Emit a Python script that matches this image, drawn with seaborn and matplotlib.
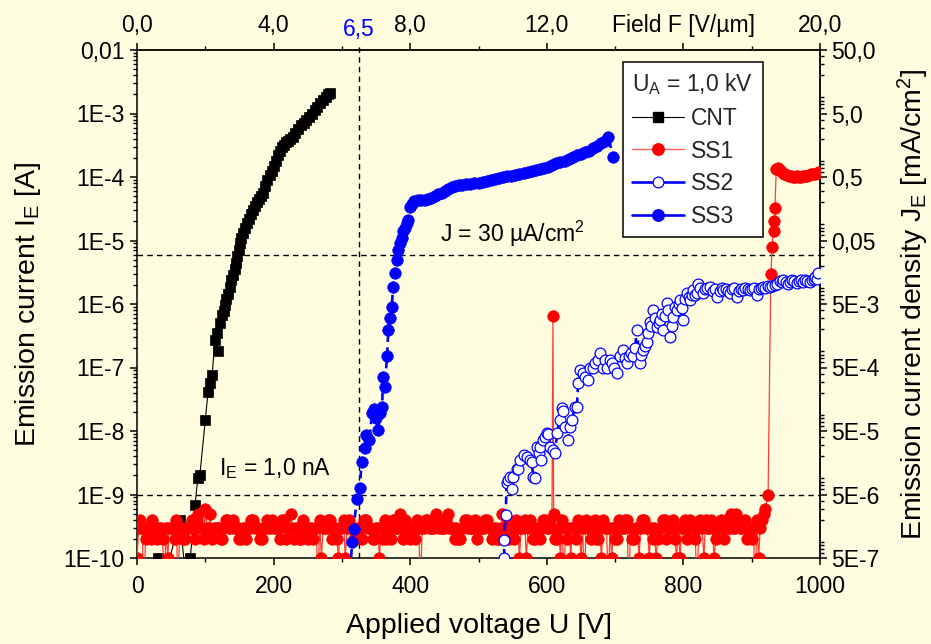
import numpy as np
import pandas as pd
import matplotlib
matplotlib.use("Agg")
import matplotlib.pyplot as plt
import matplotlib.transforms as mtransforms
from matplotlib.lines import Line2D
from matplotlib.ticker import FixedLocator, LogLocator, NullFormatter
import seaborn as sns

# ---------------------------------------------------------------- data
# CNT emitter: applied voltage [V] and emission current [A]
CNT_U = [22, 31, 38, 63, 72, 78, 85, 89, 92, 100,
         104, 107, 110, 114, 118, 117, 122, 125, 127, 129,
         131, 133, 136, 138, 140, 143, 145, 147, 149, 151,
         153, 155, 158, 161, 164, 167, 170, 173, 176, 179,
         182, 185, 188, 191, 194, 197, 200, 203, 206, 209,
         212, 215, 218, 221, 224, 228, 232, 236, 240, 244,
         248, 252, 256, 260, 264, 268, 272, 276, 280, 283]
CNT_I = [4e-11, 1e-10, 4e-11, 4e-10, 4e-11, 1e-10, 6.8e-10, 1.8e-9, 2.0e-9, 1.5e-8,
         4.1e-8, 5.75e-8, 7.6e-8, 2.7e-7, 1.8e-7, 3.5e-7, 5.0e-7, 6.6e-7, 7.9e-7, 9.5e-7,
         1.2e-6, 1.45e-6, 1.86e-6, 2.4e-6, 2.9e-6, 3.5e-6, 4.5e-6, 5.75e-6, 7.1e-6, 9.1e-6,
         1.1e-5, 1.3e-5, 1.6e-5, 1.9e-5, 2.2e-5, 2.6e-5, 3.0e-5, 3.5e-5, 4.0e-5, 4.5e-5,
         5.0e-5, 5.6e-5, 7.2e-5, 9.1e-5, 1.07e-4, 1.26e-4, 1.5e-4, 1.8e-4, 2.2e-4, 2.6e-4,
         2.95e-4, 3.2e-4, 3.5e-4, 3.7e-4, 4.0e-4, 4.3e-4, 5.0e-4, 5.75e-4, 6.5e-4, 7.1e-4,
         7.9e-4, 8.9e-4, 1.0e-3, 1.12e-3, 1.26e-3, 1.45e-3, 1.62e-3, 1.82e-3, 2.0e-3, 2.09e-3]

# SS1: electrometer floor, two interleaved passes with 5 V steps
# (pass A at 0, 5, ... 920 V; pass B at 2.5, 7.5, ... 917.5 V),
# readings in units of 0.1 nA (0.3 = reading below the range)
SS1_PASS_A_U = list(range(0, 925, 5))
SS1_PASS_A = [1, 4, 0.3, 3, 2, 3, 2, 3, 0.3, 1,
              3, 2, 0.3, 3, 2, 3, 4, 2, 5, 3,
              6, 3, 2, 3, 3, 2, 4, 3, 4, 3,
              2, 3, 2, 3, 4, 3, 2, 3, 4, 3,
              3, 3, 2, 4, 3, 5, 2, 3, 2, 3,
              2, 3, 3, 0.3, 1, 3, 4, 2, 3, 1,
              3, 1, 4, 3, 2, 3, 2, 4, 3, 2,
              3, 1, 2, 2, 3, 4, 3, 5, 2, 3,
              2, 3, 4, 0.3, 3, 4, 3, 3, 4, 3,
              3, 5, 3, 2, 2, 3, 4, 3, 3, 4,
              3, 3, 4, 3, 2, 3, 2, 5, 3, 2,
              3, 4, 1, 3, 1, 4, 2, 3, 2, 4,
              3, 4, 5, 2, 1, 0.3, 2, 1, 3, 4,
              1, 0.3, 3, 2, 4, 2, 1, 3, 0.3, 1,
              2, 4, 3, 4, 0.3, 2, 3, 1, 4, 3,
              1, 2, 1, 3, 4, 2, 3, 4, 1, 1,
              3, 2, 4, 3, 0.3, 4, 1, 3, 4, 1,
              3, 4, 2, 3, 5, 3, 4, 3, 4, 3,
              2, 0.3, 1, 4, 6]
SS1_PASS_B_U = [u + 2.5 for u in range(0, 920, 5)]
SS1_PASS_B = [3, 3, 2, 3, 4, 3, 3, 2, 3, 3,
              3, 4, 3, 2, 3, 3, 3, 4, 3, 2,
              3, 5, 3, 3, 2, 3, 4, 3, 3, 3,
              2, 3, 3, 4, 3, 3, 2, 3, 3, 4,
              3, 3, 4, 2, 3, 3, 3, 2, 4, 3,
              3, 2, 3, 4, 3, 3, 4, 3, 2, 3,
              4, 3, 3, 2, 3, 3, 4, 3, 3, 2,
              3, 3, 4, 3, 2, 3, 3, 3, 4, 3,
              3, 2, 3, 3, 4, 3, 3, 5, 3, 3,
              4, 3, 3, 3, 2, 3, 4, 3, 3, 2,
              3, 3, 4, 3, 3, 2, 3, 3, 4, 3,
              2, 3, 3, 4, 3, 3, 2, 3, 3, 4,
              3, 3, 2, 3, 4, 3, 3, 3, 2, 3,
              3, 4, 3, 3, 2, 3, 4, 3, 3, 3,
              2, 3, 3, 4, 3, 2, 3, 3, 4, 3,
              3, 3, 2, 3, 4, 3, 3, 2, 3, 3,
              4, 3, 3, 2, 3, 3, 4, 3, 3, 2,
              3, 3, 4, 3, 3, 5, 3, 3, 2, 3,
              3, 4, 3, 5]
SS1_SPIKE_U = [609]
SS1_SPIKE_I = [6.5e-7]
SS1_TAIL_U = [924, 928, 930, 932, 933, 934, 936, 939, 942, 945,
              948, 951, 954, 957, 960, 963, 966, 969, 972, 975,
              978, 981, 984, 987, 990, 993, 996, 999]
SS1_TAIL_I = [1.0e-9, 3.0e-6, 8.0e-6, 2.0e-5, 1.4e-5, 3.2e-5, 1.35e-4, 1.4e-4, 1.3e-4, 1.2e-4,
              1.1e-4, 1.08e-4, 1.05e-4, 1.03e-4, 1.0e-4, 1.0e-4, 1.02e-4, 1.0e-4, 1.0e-4, 1.02e-4,
              1.05e-4, 1.03e-4, 1.06e-4, 1.1e-4, 1.1e-4, 1.12e-4, 1.15e-4, 1.2e-4]

SS2_U = [536, 538, 537, 540, 541, 543, 546, 549, 551, 556,
         558, 561, 566, 571, 575, 578, 580, 583, 585, 588,
         590, 592, 594, 597, 600, 602, 605, 609, 612, 615,
         619, 622, 624, 627, 631, 634, 637, 641, 644, 646,
         649, 653, 656, 660, 663, 668, 671, 675, 678, 682,
         685, 688, 692, 695, 699, 703, 707, 711, 714, 717,
         720, 723, 726, 729, 732, 736, 738, 741, 744, 746,
         748, 751, 753, 756, 759, 761, 764, 766, 768, 770,
         773, 776, 778, 780, 783, 785, 788, 790, 793, 795,
         798, 800, 803, 805, 808, 810, 812, 814, 817, 820,
         822, 825, 829, 832, 835, 839, 843, 846, 849, 853,
         856, 858, 862, 865, 868, 871, 874, 878, 881, 884,
         887, 890, 894, 897, 900, 904, 908, 911, 914, 917,
         920, 924, 927, 930, 934, 937, 941, 944, 946, 950,
         953, 956, 959, 962, 966, 969, 972, 975, 978, 981,
         985, 988, 991, 993, 995, 997]
SS2_I = [4e-11, 1.0e-10, 1.9e-10, 4.8e-10, 1.5e-9, 1.7e-9, 1.9e-9, 1.2e-9, 1.9e-9, 2.5e-9,
         2.5e-9, 3.5e-9, 4.2e-9, 3.9e-9, 3.5e-9, 3.2e-9, 1.9e-9, 1.8e-9, 5.5e-9, 4.5e-9,
         5.6e-9, 3.5e-9, 7.2e-9, 8.1e-9, 9.3e-9, 9.0e-9, 5.6e-9, 5.0e-9, 4.5e-9, 9.3e-9,
         1.5e-8, 2.3e-8, 2.1e-8, 1.15e-8, 7.2e-9, 1.15e-8, 1.5e-8, 2.4e-8, 2.4e-8, 5.8e-8,
         9.1e-8, 8.1e-8, 7.1e-8, 6.3e-8, 1.0e-7, 1.0e-7, 1.17e-7, 1.3e-7, 1.7e-7, 1.0e-7,
         1.3e-7, 1.0e-7, 1.3e-7, 1.17e-7, 1.0e-7, 8.1e-8, 1.5e-7, 1.9e-7, 1.4e-7, 1.17e-7,
         1.5e-7, 1.7e-7, 1.5e-7, 2.0e-7, 3.9e-7, 1.17e-7, 1.6e-7, 1.9e-7, 2.2e-7, 2.5e-7,
         3.5e-7, 5.2e-7, 4.5e-7, 8.1e-7, 6.0e-7, 4.4e-7, 5.0e-7, 5.6e-7, 7.0e-7, 3.9e-7,
         6.5e-7, 1.05e-6, 8.0e-7, 3.0e-7, 4.5e-7, 6.3e-7, 9.0e-7, 8.1e-7, 1.0e-6, 1.15e-6,
         8.5e-7, 5.6e-7, 1.2e-6, 1.5e-6, 1.3e-6, 1.15e-6, 1.4e-6, 1.66e-6, 1.4e-6, 1.5e-6,
         2.1e-6, 1.8e-6, 1.5e-6, 1.7e-6, 1.8e-6, 1.86e-6, 1.6e-6, 1.7e-6, 1.3e-6, 1.6e-6,
         1.8e-6, 1.66e-6, 1.7e-6, 1.6e-6, 1.5e-6, 1.7e-6, 1.8e-6, 1.3e-6, 1.6e-6, 1.75e-6,
         1.66e-6, 1.8e-6, 1.7e-6, 1.66e-6, 1.75e-6, 1.8e-6, 1.4e-6, 1.7e-6, 1.8e-6, 1.86e-6,
         1.8e-6, 1.9e-6, 1.86e-6, 1.95e-6, 2.0e-6, 2.1e-6, 2.3e-6, 2.2e-6, 2.4e-6, 2.2e-6,
         2.1e-6, 2.25e-6, 2.4e-6, 2.3e-6, 2.15e-6, 2.3e-6, 2.4e-6, 2.25e-6, 2.4e-6, 2.3e-6,
         2.25e-6, 2.4e-6, 2.5e-6, 2.65e-6, 2.5e-6, 3.1e-6]

SS3_U = [311, 315, 317, 322, 326, 329, 334, 336, 340, 344,
         347, 350, 353, 356, 359, 360, 363, 366, 368, 370,
         373, 375, 378, 380, 382, 385, 388, 390, 392, 395,
         397, 400, 403, 406, 411, 416, 421, 426, 431, 436,
         441, 446, 451, 456, 461, 466, 471, 476, 482, 488,
         494, 500, 506, 512, 518, 524, 530, 536, 542, 548,
         554, 560, 566, 572, 578, 584, 590, 596, 602, 608,
         614, 620, 626, 632, 638, 644, 650, 656, 662, 668,
         674, 680, 685, 690, 697]
SS3_I = [4e-11, 1.8e-10, 2.9e-10, 8.5e-10, 1.25e-9, 3.2e-9, 5.4e-9, 8.7e-9, 7.2e-9, 1.9e-8,
         2.2e-8, 1.6e-8, 1.05e-8, 1.9e-8, 2.4e-8, 7.1e-8, 4.9e-8, 1.5e-7, 3.9e-7, 6.0e-7,
         8.9e-7, 1.86e-6, 3.1e-6, 4.9e-6, 7.1e-6, 9.0e-6, 1.1e-5, 1.4e-5, 1.6e-5, 1.9e-5,
         2.1e-5, 3.4e-5, 3.8e-5, 4.2e-5, 4.4e-5, 4.3e-5, 4.4e-5, 4.5e-5, 4.6e-5, 5.0e-5,
         5.4e-5, 5.7e-5, 6.0e-5, 6.5e-5, 6.9e-5, 7.2e-5, 7.4e-5, 7.6e-5, 7.8e-5, 7.9e-5,
         8.0e-5, 8.1e-5, 8.4e-5, 8.7e-5, 9.0e-5, 9.3e-5, 9.7e-5, 1.0e-4, 1.02e-4, 1.05e-4,
         1.08e-4, 1.12e-4, 1.16e-4, 1.19e-4, 1.23e-4, 1.3e-4, 1.35e-4, 1.4e-4, 1.45e-4, 1.55e-4,
         1.65e-4, 1.7e-4, 1.8e-4, 1.9e-4, 2.05e-4, 2.2e-4, 2.3e-4, 2.45e-4, 2.6e-4, 2.85e-4,
         3.1e-4, 3.4e-4, 3.7e-4, 4.3e-4, 2.1e-4]

# reference levels
ONSET_U = 325          # voltage of the 1 nA onset of SS3 (6,5 V/um)
J_LEVEL_I = 6e-6       # current equivalent of J = 30 uA/cm^2
I_LEVEL = 1e-9         # 1,0 nA threshold
AREA_FACTOR = 5000.0   # J [mA/cm^2] per A
GAP_UM = 50.0          # V per (V/um)

X_TICKS = [0, 200, 400, 600, 800, 1000]
Y_TICKS = [1e-2, 1e-3, 1e-4, 1e-5, 1e-6, 1e-7, 1e-8, 1e-9, 1e-10]
Y_LABELS = ["0,01", "1E-3", "1E-4", "1E-5", "1E-6", "1E-7", "1E-8", "1E-9", "1E-10"]
J_TICKS = [50, 5, 0.5, 0.05, 5e-3, 5e-4, 5e-5, 5e-6, 5e-7]
J_LABELS = ["50,0", "5,0", "0,5", "0,05", "5E-3", "5E-4", "5E-5", "5E-6", "5E-7"]
F_TICKS = [0, 4, 8, 12, 16, 20]
F_LABELS = ["0,0", "4,0", "8,0", "12,0", "Field F [V/\u00b5m]", "20,0"]
F_MINOR = [2, 6, 10, 14, 18]

# --------------------------------------------------------------- assemble SS1
ss1 = pd.DataFrame({
    "U": SS1_PASS_A_U + SS1_PASS_B_U + SS1_SPIKE_U + SS1_TAIL_U,
    "I": ([v * 1e-10 for v in SS1_PASS_A] + [v * 1e-10 for v in SS1_PASS_B]
          + SS1_SPIKE_I + SS1_TAIL_I),
}).sort_values("U", kind="stable")

# --------------------------------------------------------------- style
BG = "#FFFDE0"
sns.set_theme(style="ticks")
plt.rcParams["font.family"] = ["Liberation Sans", "DejaVu Sans"]
plt.rcParams["mathtext.default"] = "regular"
plt.rcParams["axes.linewidth"] = 1.1

TICK_FS = 16.5
LABEL_FS = 20.5

fig = plt.figure(figsize=(9.31, 6.44), dpi=100, facecolor=BG)
ax = fig.add_axes([137 / 931, 1 - 558 / 644, 683 / 931, 508 / 644])
ax.set_facecolor(BG)
ax.set_yscale("log")

# --------------------------------------------------------------- reference lines
dash = (0, (4, 3))
ax.axhline(J_LEVEL_I, color="black", lw=1.0, ls=dash, zorder=2)
ax.axhline(I_LEVEL, color="black", lw=1.0, ls=dash, zorder=2)
ax.plot([ONSET_U, ONSET_U], [1e-10, 1.28e-2], color="black", lw=1.0, ls=dash,
        clip_on=False, zorder=2)

# --------------------------------------------------------------- series
sns.lineplot(x=CNT_U, y=CNT_I, ax=ax, sort=False, estimator=None,
             color="black", lw=0.8, marker="s", markersize=7,
             markeredgecolor="black", markeredgewidth=0.5, zorder=3, legend=False)
sns.lineplot(x=ss1["U"].tolist(), y=ss1["I"].tolist(), ax=ax, sort=False, estimator=None,
             color="#FF3A3A", lw=0.9, marker="o", markersize=8.3,
             markerfacecolor="red", markeredgecolor="red", markeredgewidth=0.5,
             zorder=4, legend=False)
sns.lineplot(x=SS2_U, y=SS2_I, ax=ax, sort=False, estimator=None,
             color="blue", lw=1.9, linestyle=(0, (3, 2)), marker="o", markersize=7.8,
             markerfacecolor="white", markeredgecolor="blue", markeredgewidth=0.9,
             zorder=5, legend=False)
sns.lineplot(x=SS3_U, y=SS3_I, ax=ax, sort=False, estimator=None,
             color="blue", lw=1.9, linestyle=(0, (3, 2)), marker="o", markersize=8.3,
             markerfacecolor="blue", markeredgecolor="blue", markeredgewidth=0.5,
             zorder=6, legend=False)

# --------------------------------------------------------------- axes
ax.set_xlim(0, 1000)
ax.set_ylim(1e-10, 1e-2)
ax.set_xticks(X_TICKS)
ax.xaxis.set_minor_locator(FixedLocator([100, 300, 500, 700, 900]))
ax.set_yticks(Y_TICKS, labels=Y_LABELS)
ax.yaxis.set_minor_locator(LogLocator(base=10, subs=np.arange(2, 10)))
ax.yaxis.set_minor_formatter(NullFormatter())
ax.tick_params(which="major", direction="out", length=5, width=1.1,
               labelsize=TICK_FS, colors="black", pad=4)
ax.tick_params(axis="x", which="major", pad=7)
ax.tick_params(which="minor", direction="out", length=2.8, width=1.0, colors="black")
for s in ax.spines.values():
    s.set_color("black")
    s.set_linewidth(1.1)
ax.set_xlabel("Applied voltage U [V]", fontsize=LABEL_FS, color="black", labelpad=11)
ax.set_ylabel("Emission current I$_E$ [A]", fontsize=LABEL_FS, color="black", labelpad=15)

top = ax.secondary_xaxis("top", functions=(lambda u: u / GAP_UM, lambda f: f * GAP_UM))
top.set_xticks(F_TICKS, labels=F_LABELS)
top.xaxis.set_minor_locator(FixedLocator(F_MINOR))
top.tick_params(which="major", direction="out", length=5, width=1.1,
                labelsize=TICK_FS, colors="black", pad=4)
top.tick_params(which="minor", direction="out", length=2.8, width=1.0, colors="black")
top.spines["top"].set_linewidth(1.1)

right = ax.secondary_yaxis("right", functions=(lambda i: i * AREA_FACTOR,
                                               lambda j: j / AREA_FACTOR))
right.set_yticks(J_TICKS, labels=J_LABELS)
right.yaxis.set_minor_locator(LogLocator(base=10, subs=np.arange(2, 10)))
right.yaxis.set_minor_formatter(NullFormatter())
right.tick_params(which="major", direction="out", length=5, width=1.1,
                  labelsize=TICK_FS, colors="black", pad=3)
right.tick_params(which="minor", direction="out", length=2.8, width=1.0, colors="black")
right.spines["right"].set_linewidth(1.1)
right.set_ylabel("Emission current density J$_E$ [mA/cm$^2$]", fontsize=LABEL_FS,
                 color="black", labelpad=12)

# --------------------------------------------------------------- annotations
trans = mtransforms.blended_transform_factory(ax.transData, ax.transAxes)
ax.text(ONSET_U, 1.04, "6,5", transform=trans, color="blue", ha="center",
        va="center", fontsize=TICK_FS)
ax.text(444, 1.25e-5, "J = 30 \u00b5A/cm$^2$", fontsize=TICK_FS, color="black",
        ha="left", va="center")
ax.text(120, 2.6e-9, "I$_E$ = 1,0 nA", fontsize=TICK_FS, color="black",
        ha="left", va="center")

# --------------------------------------------------------------- legend
handles = [
    Line2D([], [], color="black", lw=0.8, marker="s", markersize=7,
           markerfacecolor="black", markeredgecolor="black"),
    Line2D([], [], color="#FF6060", lw=1.0, marker="o", markersize=8.3,
           markerfacecolor="red", markeredgecolor="red"),
    Line2D([], [], color="blue", lw=1.9, marker="o", markersize=7.8,
           markerfacecolor="white", markeredgecolor="blue", markeredgewidth=0.9),
    Line2D([], [], color="blue", lw=1.9, marker="o", markersize=8.3,
           markerfacecolor="blue", markeredgecolor="blue"),
]
leg = ax.legend(handles, ["CNT", "SS1", "SS2", "SS3"], title="U$_A$ = 1,0 kV",
                loc="upper left", bbox_to_anchor=(0.712, 0.976), frameon=True,
                fancybox=False, facecolor="white", edgecolor="black", framealpha=1,
                fontsize=TICK_FS, title_fontsize=TICK_FS, handlelength=2.25,
                handletextpad=0.3, labelspacing=0.42, borderpad=0.4,
                borderaxespad=0.0, alignment="left")
leg.get_frame().set_linewidth(1.1)
leg.set_zorder(10)

fig.savefig("out.png", dpi=100, facecolor=BG)
